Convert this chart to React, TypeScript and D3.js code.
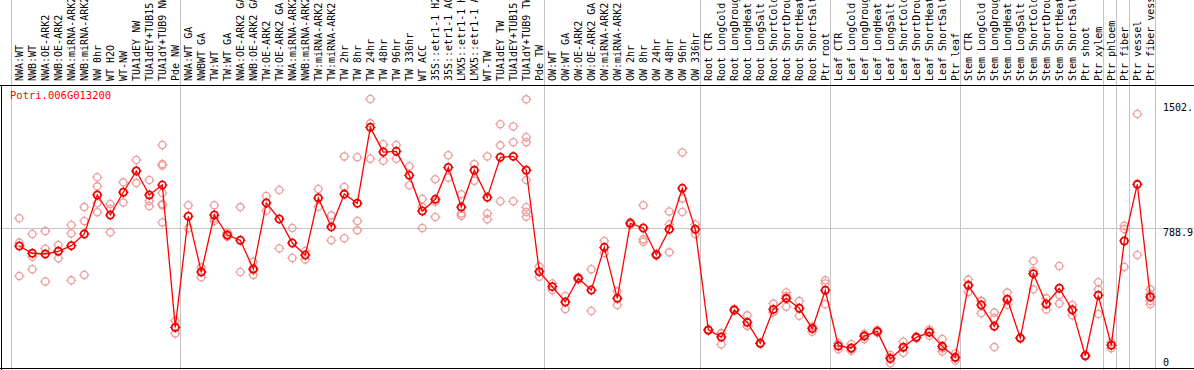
import { useEffect, useRef } from 'react'
import * as d3 from 'd3'

const W = 1194
const H = 370

const geneName = 'Potri.006G013200'

const categories = [
  'NWA:WT', 'NWB:WT', 'NWA:OE-ARK2', 'NWB:OE-ARK2', 'NWA:miRNA-ARK2', 'NWB:miRNA-ARK2',
  'NW 0hr', 'WT H2O', 'WT-NW', 'TUA1dEY NW', 'TUA1dEY+TUB15 NW', 'TUA1dY+TUB9 NW', 'Pde NW',
  'NWA:WT GA', 'NWBWT GA', 'TW:WT', 'TW:WT GA', 'NWA:OE-ARK2 GA', 'NWB:OE-ARK2 GA',
  'TW:OE-ARK2', 'TW:OE-ARK2 GA', 'NWA:miRNA-ARK2 GA', 'NWB:miRNA-ARK2 GA', 'TW:miRNA-ARK2',
  'TW:miRNA-ARK2 GA', 'TW 2hr', 'TW 8hr', 'TW 24hr', 'TW 48hr', 'TW 96hr', 'TW 336hr',
  'WT ACC', '35S::etr1-1 H2O', '35S::etr1-1 ACC', 'LMX5::etr1-1 H2O', 'LMX5::etr1-1 ACC',
  'WT-TW', 'TUA1dEY TW', 'TUA1dEY+TUB15 TW', 'TUA1dY+TUB9 TW', 'Pde TW',
  'OW:WT', 'OW:WT GA', 'OW:OE-ARK2', 'OW:OE-ARK2 GA', 'OW:miRNA-ARK2', 'OW:miRNA-ARK2 GA',
  'OW 2hr', 'OW 8hr', 'OW 24hr', 'OW 48hr', 'OW 96hr', 'OW 336hr',
  'Root CTR', 'Root LongCold', 'Root LongDrought', 'Root LongHeat', 'Root LongSalt',
  'Root ShortCold', 'Root ShortDrought', 'Root ShortHeat', 'Root ShortSalt', 'Ptr root',
  'Leaf CTR', 'Leaf LongCold', 'Leaf LongDrought', 'Leaf LongHeat', 'Leaf LongSalt',
  'Leaf ShortCold', 'Leaf ShortDrought', 'Leaf ShortHeat', 'Leaf ShortSalt', 'Ptr leaf',
  'Stem CTR', 'Stem LongCold', 'Stem LongDrought', 'Stem LongHeat', 'Stem LongSalt',
  'Stem ShortCold', 'Stem ShortDrought', 'Stem ShortHeat', 'Stem ShortSalt', 'Ptr shoot',
  'Ptr xylem', 'Ptr phloem', 'Ptr fiber', 'Ptr vessel', 'Ptr fiber vessel',
]

// first sample of each experiment block (gray separators)
const groupStarts = [
  'NWA:WT', 'NWA:WT GA', 'OW:WT', 'Root CTR', 'Leaf CTR', 'Stem CTR',
  'Ptr phloem', 'Ptr fiber', 'Ptr vessel',
]

const meanValues = [
  687, 647, 643, 658, 689, 754, 970, 859, 985, 1103, 970, 1025, 236,
  852, 543, 859, 748, 719, 560, 926, 837, 704, 637, 953, 793, 975, 924, 1345, 1208, 1212, 1079,
  881, 946, 1123, 903, 1107, 957, 1179, 1184, 1107, 545,
  462, 377, 508, 443, 680, 397, 813, 787, 639, 780, 1007, 780,
  222, 183, 333, 264, 148, 336, 397, 342, 229, 442,
  133, 122, 188, 214, 63, 126, 181, 209, 131, 70,
  469, 360, 242, 392, 177, 534, 366, 453, 333, 79, 414,
  137, 715, 1029, 405,
]

const replicateValues = [
  [841, 706, 521], [754, 628, 558], [770, 672, 491], [693, 619, 660], [804, 757, 497],
  [903, 826, 527], [1068, 1018, 924, 874], [920, 892, 763], [1040, 929, 985], [1164, 1036, 1105],
  [1053, 937, 909], [1247, 1142, 1134, 981, 920, 913, 818], [272, 203, 236],
  [913, 785], [569, 514], [913, 826, 840], [763, 739, 742], [903, 543], [600, 527, 553],
  [964, 883], [998, 674], [787, 621], [660, 613], [1003, 905], [857, 719],
  [1184, 1014, 730], [1179, 826, 774], [1502, 1367, 1171], [1251, 1160], [1247, 1171], [1129, 1024],
  [948, 903, 787], [1057, 848, 933], [1190, 1066], [974, 868, 855], [1142, 1049],
  [1184, 868, 835], [1362, 1245, 935], [1350, 1262, 935], [1500, 1290, 1262, 1053, 902, 876, 850],
  [573, 517],
  [480, 443], [410, 338], [515, 500], [558, 327], [715, 647], [436, 360],
  [820, 805], [913, 724, 711], [645, 633], [879, 807, 652], [1206, 951, 876], [807, 754],
  [225, 218], [203, 142, 204], [338, 328], [303, 244, 245], [150, 146], [368, 320, 321],
  [430, 351, 410], [382, 301, 343], [235, 212, 240], [497, 480, 364],
  [115, 148, 136], [144, 107, 115], [201, 172, 191], [222, 206], [37, 83, 69],
  [157, 96, 125], [186, 176], [224, 190, 213], [172, 102, 119], [92, 52, 66],
  [501, 432, 474], [382, 314, 384], [318, 288, 127], [429, 362, 385], [180, 174],
  [604, 549, 447], [397, 336, 365], [576, 416, 368], [360, 303, 336], [82, 76],
  [486, 447, 310], [153, 120, 138], [800, 781, 571], [1419, 637], [447, 382, 364, 420],
]

const tickValues = [0, 788.9, 1502]
const tickLabels = ['0', '788.9', '1502.']

const FONT = '"DejaVu Sans Mono", "Liberation Mono", monospace'

export default function App() {
  const svgRef = useRef<SVGSVGElement>(null)

  useEffect(() => {
    if (!svgRef.current) return
    const svg = d3.select(svgRef.current)
    svg.selectAll('*').remove()

    const labelBottom = 85
    const x = d3.scaleBand<string>().domain(categories).range([10.8, 1154.8]).padding(0)
    const cx = (c: string) => (x(c) ?? 0) + 8.5
    const y = d3.scaleLinear().domain([0, 1502]).range([370, 99])

    svg.append('rect').attr('width', W).attr('height', H).attr('fill', '#fff')

    // gray separators between experiment blocks
    const seps = groupStarts.map(c => x(c) ?? 0).concat([x.range()[1]])
    svg.selectAll('.sep')
      .data(seps)
      .enter().append('line')
      .attr('x1', d => Math.round(d) + 0.5)
      .attr('x2', d => Math.round(d) + 0.5)
      .attr('y1', 0)
      .attr('y2', H)
      .attr('stroke', '#c4c4c4')
      .attr('stroke-width', 1)

    // middle reference line
    svg.append('line')
      .attr('x1', 0).attr('x2', W)
      .attr('y1', Math.round(y(788.9)) + 0.5).attr('y2', Math.round(y(788.9)) + 0.5)
      .attr('stroke', '#c4c4c4')

    // frame
    svg.append('line').attr('x1', 0).attr('x2', W).attr('y1', labelBottom + 0.5).attr('y2', labelBottom + 0.5)
      .attr('stroke', '#000')
    svg.append('line').attr('x1', 0).attr('x2', W).attr('y1', H - 1.5).attr('y2', H - 1.5)
      .attr('stroke', '#000')
    svg.append('line').attr('x1', 1.5).attr('x2', 1.5).attr('y1', labelBottom).attr('y2', H)
      .attr('stroke', '#000')

    // sample labels (vertical)
    svg.append('g')
      .selectAll('text')
      .data(categories)
      .enter().append('text')
      .attr('transform', d => `translate(${cx(d) + 3.5},${labelBottom - 4}) rotate(-90)`)
      .attr('font-family', FONT)
      .attr('font-size', 10)
      .attr('fill', '#000')
      .text(d => d)

    // gene name
    svg.append('text')
      .attr('x', 10).attr('y', 99)
      .attr('font-family', FONT)
      .attr('font-size', 10.5)
      .attr('fill', '#ff0000')
      .text(geneName)

    // right axis labels
    svg.selectAll('.tick')
      .data(tickValues)
      .enter().append('text')
      .attr('x', 1163)
      .attr('y', d => Math.max(111, Math.min(365.5, y(d) + 8.5)))
      .attr('font-family', FONT)
      .attr('font-size', 10)
      .attr('fill', '#000')
      .text((_, i) => tickLabels[i])

    const marker = (g: d3.Selection<SVGGElement, unknown, null, undefined>, px: number, py: number,
      color: string, sw: number) => {
      const r = 3.6
      g.append('circle').attr('cx', px).attr('cy', py).attr('r', r)
        .attr('fill', 'none').attr('stroke', color).attr('stroke-width', sw)
      const ticks = [[0, -1], [0, 1], [-1, 0], [1, 0]]
      ticks.forEach(([dx, dy]) => {
        g.append('line')
          .attr('x1', px + dx * r).attr('y1', py + dy * r)
          .attr('x2', px + dx * (r + 1.6)).attr('y2', py + dy * (r + 1.6))
          .attr('stroke', color).attr('stroke-width', 1)
      })
    }

    // replicates
    const repG = svg.append('g')
    categories.forEach((c, i) => {
      replicateValues[i].forEach(v => marker(repG, cx(c), y(v), '#ec9c9c', 1.3))
    })

    // mean line
    const line = d3.line<number>()
      .x((_, i) => cx(categories[i]))
      .y(d => y(d))
    svg.append('path')
      .datum(meanValues)
      .attr('d', line)
      .attr('fill', 'none')
      .attr('stroke', '#ff0000')
      .attr('stroke-width', 1.3)

    const meanG = svg.append('g')
    categories.forEach((c, i) => marker(meanG, cx(c), y(meanValues[i]), '#ee0000', 1.8))
  }, [])

  return (
    <div style={{ position: 'fixed', left: 0, top: 0, width: W, height: H, overflow: 'hidden' }}>
      <svg ref={svgRef} width={W} height={H} style={{ display: 'block' }} />
    </div>
  )
}
